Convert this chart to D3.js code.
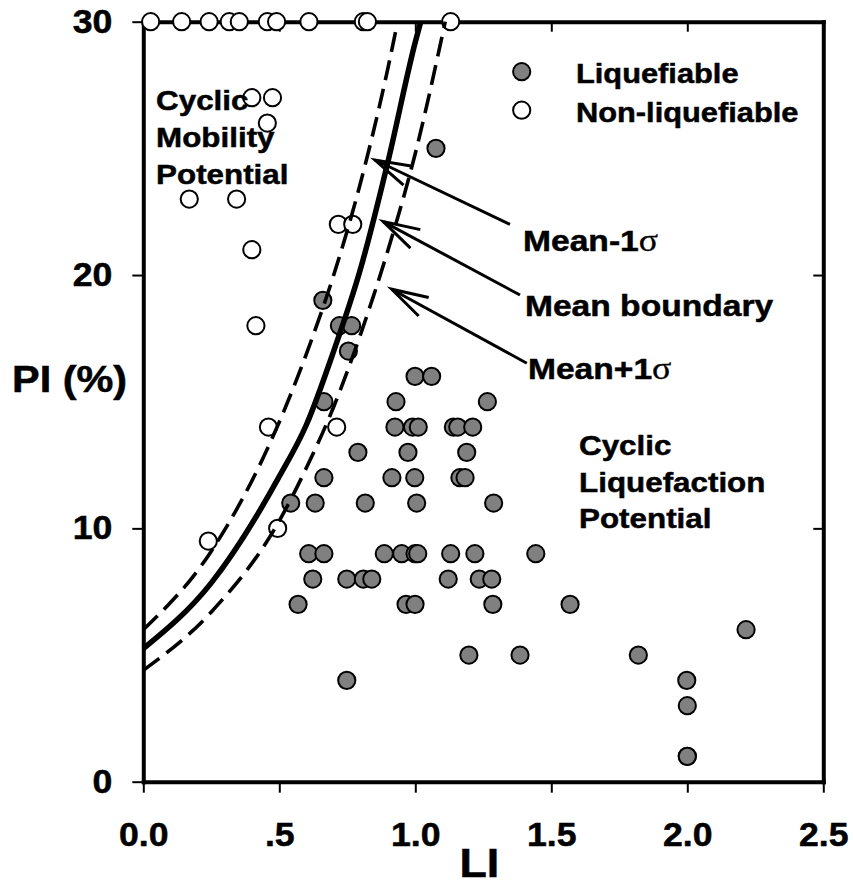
<!DOCTYPE html>
<html><head><meta charset="utf-8">
<script src="https://cdn.jsdelivr.net/npm/d3@7"></script>
<style>
body{margin:0;background:#fff}
text{font-family:"Liberation Sans",Arial,Helvetica,sans-serif;font-weight:bold;fill:#000;stroke:#000;stroke-width:0.5px}
</style>
</head><body>
<svg id="chart" width="853" height="885"></svg>
<script>
// ---------- data ----------
const xTicks=[0,0.5,1,1.5,2,2.5];
const xTickLabels=["0.0",".5","1.0","1.5","2.0","2.5"];
const yTicks=[0,10,20,30];
const yTickLabels=["0","10","20","30"];

// Liquefiable (grey)
const liqLI=[1.076,0.660,0.721,0.766,0.754,0.999,1.060,0.664,0.929,1.265,
 0.925,0.990,1.011,1.140,1.156,1.211,0.789,0.973,1.189,
 0.664,0.914,0.998,1.164,1.183,0.542,0.632,0.816,1.005,1.288,
 0.608,0.664,0.886,0.950,0.999,1.009,1.130,1.219,1.443,
 0.623,0.748,0.809,0.840,1.121,1.235,1.281,
 0.569,0.966,0.999,1.285,1.569,2.216,1.197,1.385,1.820,0.748,1.998,2.0,2.0,2.0];
const liqPI=[25,19,18,18,17,16,16,15,15,15,
 14,14,14,14,14,14,13,13,13,
 12,12,12,12,12,11,11,11,11,11,
 9,9,9,9,9,9,9,9,9,
 8,8,8,8,8,8,8,
 7,7,7,7,7,6,5,5,5,4,4,3,1,1];

// Non-liquefiable (open)
const nonLI=[0.027,0.141,0.242,0.316,0.353,0.456,0.490,0.609,0.809,0.824,1.130,
 0.399,0.475,0.456,0.169,0.343,0.717,0.770,0.399,0.414,0.460,0.711,0.494,0.239];
const nonPI=[30,30,30,30,30,30,30,30,30,30,30,
 27,27,26,23,23,22,22,21,18,14,14,10,9.5];

// Boundary curves
const meanLI=[0,0.25,0.5,0.6,0.7,0.8,0.9,1.0,1.02];
const meanPI=[5.25,7.85,12.05,14.1,17.0,20.3,24.5,29.2,30];
const minusLI=[0,0.25,0.5,0.6,0.7,0.8,0.9,0.935];
const minusPI=[6.0,9.1,14.2,16.9,20.0,23.7,28.2,30];
const plusLI=[0,0.25,0.5,0.6,0.7,0.8,0.9,1.0,1.1,1.11];
const plusPI=[4.4,6.7,10.3,12.4,14.8,17.7,21.0,24.8,29.5,30];

const legendLabels=["Liquefiable","Non-liquefiable"];
const annLabels=["Mean-1","Mean boundary","Mean+1"];
const annSigma=[true,false,true];
const annTipLI=[0.852,0.882,0.913], annTipPI=[24.54,22.11,19.44];
const annTailLI=[1.348,1.385,1.410], annTailPI=[22.0,19.21,16.52];
const annTextLI=[1.396,1.403,1.414], annTextPI=[20.95,18.38,15.9];
const leftRegion=["Cyclic","Mobility","Potential"];
const rightRegion=["Cyclic","Liquefaction","Potential"];

// ---------- drawing ----------
const svg=d3.select("#chart");
const X0=143.3,X1=823.3,Y0=781.7,Y1=21.7;
const x=d3.scaleLinear().domain([0,2.5]).range([X0,X1]);
const y=d3.scaleLinear().domain([0,30]).range([Y0,Y1]);
const SX=1.12;
function addText(px,py,str,size,anchor){
 return svg.append("text").attr("transform",`translate(${px},${py}) scale(${SX},1)`)
  .attr("font-size",size).attr("text-anchor",anchor||"start").text(str);
}

// axes
const gB=svg.append("g").attr("transform",`translate(0,${Y0})`)
 .call(d3.axisBottom(x).tickValues(xTicks).tickFormat((d,i)=>xTickLabels[i]).tickSize(11).tickSizeOuter(0));
gB.selectAll("text").attr("y",41).attr("font-size",33).attr("transform",`scale(1.08,1)`);
const gL=svg.append("g").attr("transform",`translate(${X0},0)`)
 .call(d3.axisLeft(y).tickValues(yTicks).tickFormat((d,i)=>yTickLabels[i]).tickSize(11).tickSizeOuter(0));
gL.selectAll("text").attr("x",0).attr("font-size",33).attr("transform",`translate(-31,0) scale(1.08,1)`);
const gT=svg.append("g").attr("transform",`translate(0,${Y1})`)
 .call(d3.axisTop(x).tickValues([0.5,1,1.5,2]).tickFormat("").tickSize(-10).tickSizeOuter(0));
const gR=svg.append("g").attr("transform",`translate(${X1},0)`)
 .call(d3.axisLeft(y).tickValues([10,20]).tickFormat("").tickSize(10).tickSizeOuter(0));
svg.selectAll(".domain").attr("stroke","#000").attr("stroke-width",4).attr("stroke-linecap","square");
svg.selectAll(".tick line").attr("stroke","#000").attr("stroke-width",2);
svg.selectAll(".tick text").attr("fill","#000").attr("stroke","#000").attr("stroke-width",0.5)
 .attr("font-family",'"Liberation Sans",Arial,sans-serif').attr("font-weight","bold");

// axis titles
addText(12,392,"PI (%)",37);
addText((X0+X1)/2-4,877,"LI",40,"middle");

// points
const liq=liqLI.map((v,i)=>({li:v,pi:liqPI[i]}));
const non=nonLI.map((v,i)=>({li:v,pi:nonPI[i]}));
svg.append("g").selectAll("circle").data(liq).join("circle")
 .attr("cx",d=>x(d.li)).attr("cy",d=>y(d.pi)).attr("r",8.6)
 .attr("fill","#808080").attr("stroke","#000").attr("stroke-width",2);
svg.append("g").selectAll("circle").data(non).join("circle")
 .attr("cx",d=>x(d.li)).attr("cy",d=>y(d.pi)).attr("r",8.6)
 .attr("fill","#fff").attr("stroke","#000").attr("stroke-width",2);

// curves
const line=d3.line().x(d=>x(d[0])).y(d=>y(d[1])).curve(d3.curveMonotoneX);
function curve(lis,pis,w,dash){
 svg.append("path").datum(lis.map((v,i)=>[v,pis[i]])).attr("d",line)
  .attr("fill","none").attr("stroke","#000").attr("stroke-width",w)
  .attr("stroke-dasharray",dash);
}
curve(minusLI,minusPI,3.6,"20,9");
curve(plusLI,plusPI,3.6,"20,9");
curve(meanLI,meanPI,5.5,null);

// annotations with open arrowheads
annLabels.forEach((lab,i)=>{
 const tx=x(annTipLI[i]),ty=y(annTipPI[i]),sx=x(annTailLI[i]),sy=y(annTailPI[i]);
 svg.append("line").attr("x1",sx).attr("y1",sy).attr("x2",tx).attr("y2",ty)
  .attr("stroke","#000").attr("stroke-width",3);
 const ang=Math.atan2(sy-ty,sx-tx),L=38,h=16*Math.PI/180;
 const p=d3.path();
 p.moveTo(tx+L*Math.cos(ang-h),ty+L*Math.sin(ang-h));
 p.lineTo(tx,ty);
 p.lineTo(tx+L*Math.cos(ang+h),ty+L*Math.sin(ang+h));
 svg.append("path").attr("d",p.toString()).attr("fill","none").attr("stroke","#000").attr("stroke-width",3);
 const t=addText(x(annTextLI[i]),y(annTextPI[i]),null,30);
 t.append("tspan").text(lab);
 if(annSigma[i]) t.append("tspan").attr("font-family",'"Liberation Serif","DejaVu Serif",serif')
   .attr("font-weight","normal").attr("stroke-width",0.3).attr("font-size",32).text("σ");
});

// region labels
leftRegion.forEach((s,i)=>addText(x(0.047),y(26.51)+i*37,s,28));
rightRegion.forEach((s,i)=>addText(x(1.602),y(12.9)+i*36.7,s,28));

// legend
legendLabels.forEach((s,i)=>{
 svg.append("circle").attr("cx",521.7).attr("cy",71.7+i*38.5).attr("r",8.6)
  .attr("fill",i==0?"#808080":"#fff").attr("stroke","#000").attr("stroke-width",2);
 addText(576,83+i*39,s,27.5);
});
</script>
</body></html>
